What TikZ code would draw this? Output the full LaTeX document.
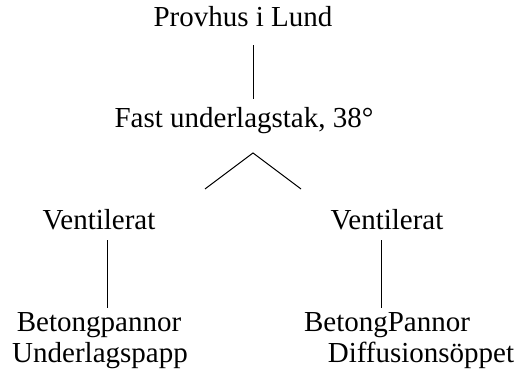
\documentclass[tikz,border=0pt]{standalone}
\usepackage{fontspec}
\setmainfont{Liberation Serif}
\begin{document}
\begin{tikzpicture}[x=1pt,y=1pt,
    lbl/.style={font=\fontsize{29}{31}\selectfont, anchor=base, text height=20pt, text depth=6pt, inner ysep=4pt, inner xsep=0pt},
    link/.style={line width=1pt}]
		%%%%% START %%%%%
		\useasboundingbox (0,0) rectangle (519,374);
		
		\node[lbl] (provhus) at (243, 347) {Provhus i Lund};
		\node[lbl] (fast) at (244, 246) {Fast underlagstak, 38°};
		\coordinate (apex) at (253, 221);
		\coordinate (legL) at (205, 185);
		\coordinate (legR) at (301, 185);
		
		\node[lbl] (ventL) at (99, 144) {Ventilerat};
		\node[lbl] (ventR) at (387, 144) {Ventilerat};
		
		\node[lbl] (betL) at (99, 42) {Betongpannor};
		\node[lbl] (papp) at (100, 11) {Underlagspapp};
		\node[lbl] (betR) at (387, 42) {BetongPannor};
		\node[lbl] (diff) at (421, 11) {Diffusionsöppet};
		
		\draw[link, shorten <=8pt, shorten >=5pt] (provhus.south -| apex) -- (fast.north -| apex);
		\draw[link] (legL) -- (apex) -- (legR);
		\draw[link] ([xshift=8pt]ventL.south) -- ([xshift=8pt]betL.north);
		\draw[link] ([xshift=-6pt]ventR.south) -- ([xshift=-6pt]betR.north);
		
		%%%%% END %%%%%
\end{tikzpicture}
\end{document}
